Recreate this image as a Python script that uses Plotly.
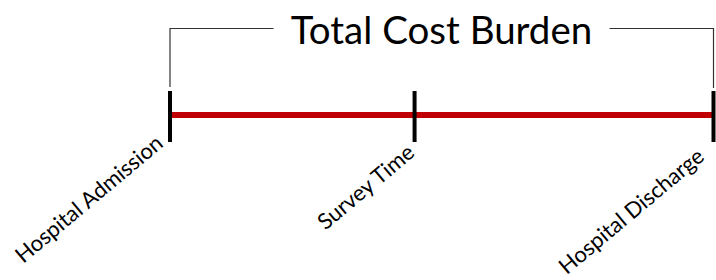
import plotly.graph_objects as go

# ---- data ----
event_names = ["Hospital Admission", "Survey Time", "Hospital Discharge"]
event_positions = [0.0, 0.45, 1.0]          # relative time along the stay
title_text = "Total Cost Burden"

# ---- styling / layout constants ----
W, H = 716, 280
X0_PX, X1_PX = 170, 713.5
scale = (X1_PX - X0_PX)
xr = [-X0_PX / scale, (W - X0_PX) / scale]
LINE_Y_PX = 115
yr = [-(H - LINE_Y_PX), LINE_Y_PX]   # y=0 is the timeline, 1 unit = 1 px

RED = "#C00000"
TICK_TOP, TICK_BOT = 24, -27
BR_BOT, BR_TOP = 28, 86.5

fig = go.Figure()

# bracket above the timeline
fig.add_trace(go.Scatter(
    x=[event_positions[0], event_positions[0], event_positions[-1], event_positions[-1]],
    y=[BR_BOT, BR_TOP, BR_TOP, BR_BOT - 1],
    mode="lines", line=dict(color="#333333", width=1.2),
    hoverinfo="skip", showlegend=False, cliponaxis=False))

# red timeline
fig.add_trace(go.Scatter(
    x=[event_positions[0], event_positions[-1]], y=[0, 0],
    mode="lines", line=dict(color=RED, width=6),
    hoverinfo="skip", showlegend=False, cliponaxis=False))

# event ticks
tx, ty = [], []
for p in event_positions:
    tx += [p, p, None]
    ty += [TICK_BOT, TICK_TOP, None]
fig.add_trace(go.Scatter(
    x=tx, y=ty, mode="lines", line=dict(color="black", width=4),
    hoverinfo="skip", showlegend=False, cliponaxis=False))

# title covering the middle of the bracket
fig.add_annotation(
    x=0.5, y=BR_TOP, xref="x", yref="y", text=title_text,
    showarrow=False, xanchor="center", yanchor="middle",
    font=dict(family="Lato", size=38.5, color="black"),
    bgcolor="white", width=333, align="center", yshift=0)

# rotated event labels
nudges = [(0, -11), (7, -20), (-2, -24)]
for name, p, (dx, dy) in zip(event_names, event_positions, nudges):
    fig.add_annotation(
        x=p, y=0, xref="x", yref="y", text=name, showarrow=False,
        xanchor="right", yanchor="top", textangle=-40,
        font=dict(family="Lato", size=22, color="black"),
        xshift=dx, yshift=dy)

fig.update_layout(
    width=W, height=H, margin=dict(l=0, r=0, t=0, b=0),
    paper_bgcolor="white", plot_bgcolor="white",
    xaxis=dict(range=xr, visible=False, fixedrange=True),
    yaxis=dict(range=yr, visible=False, fixedrange=True),
    showlegend=False)

fig.write_html(
    "out.html",
    config={"displayModeBar": False, "staticPlot": True},
    post_script="document.body.style.margin='0';document.body.style.overflow='hidden';")
